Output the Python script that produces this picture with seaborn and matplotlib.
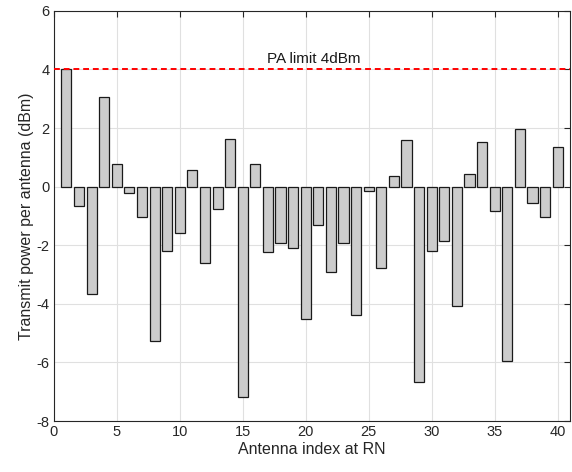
import numpy as np
import pandas as pd
import matplotlib
matplotlib.use("Agg")
import matplotlib.pyplot as plt
import seaborn as sns

antenna_idx = list(range(1, 41))
tx_power = [4.00, -0.67, -3.67, 3.06, 0.76, -0.23, -1.05, -5.26, -2.19, -1.57,
            0.57, -2.59, -0.77, 1.62, -7.19, 0.78, -2.23, -1.93, -2.10, -4.51,
            -1.32, -2.93, -1.91, -4.38, -0.16, -2.77, 0.35, 1.60, -6.66, -2.20,
            -1.84, -4.08, 0.42, 1.51, -0.82, -5.94, 1.98, -0.57, -1.05, 1.36]
pa_limit = 4
x_ticks = [0, 5, 10, 15, 20, 25, 30, 35, 40]
y_ticks = [-8, -6, -4, -2, 0, 2, 4, 6]

sns.set_style("white")
plt.rcParams["font.family"] = ["Liberation Sans", "DejaVu Sans"]
plt.rcParams["axes.unicode_minus"] = False

df = pd.DataFrame({"idx": antenna_idx, "power": tx_power})

fig = plt.figure(figsize=(5.72, 4.72), dpi=100)
ax = fig.add_axes([0.094, 0.108, 0.903, 0.869])

sns.barplot(data=df, x="idx", y="power", native_scale=True, width=0.8,
            color="#cccccc", saturation=1, edgecolor="#1a1a1a", linewidth=0.9,
            ax=ax, zorder=3)

ax.axhline(pa_limit, color="red", linestyle=(0, (3, 2)), linewidth=1.4, zorder=4)
ax.text(20.6, pa_limit + 0.36, "PA limit 4dBm", ha="center", va="center",
        fontsize=11, color="#1a1a1a", zorder=5)

ax.set_xlim(0, 41)
ax.set_ylim(-8, 6)
ax.set_xticks(x_ticks)
ax.set_yticks(y_ticks)
ax.grid(True, color="#e0e0e0", linewidth=0.8, zorder=0)
ax.set_axisbelow(True)
ax.tick_params(direction="in", top=True, right=True, length=4, width=0.8,
               labelsize=10.5, colors="#262626", pad=3)
for s in ax.spines.values():
    s.set_color("#262626")
    s.set_linewidth(0.8)

ax.set_xlabel("Antenna index at RN", fontsize=11.5, color="#262626", labelpad=2)
ax.set_ylabel("Transmit power per antenna (dBm)", fontsize=11.5, color="#262626",
              labelpad=2)

fig.savefig("out.png", dpi=100)
